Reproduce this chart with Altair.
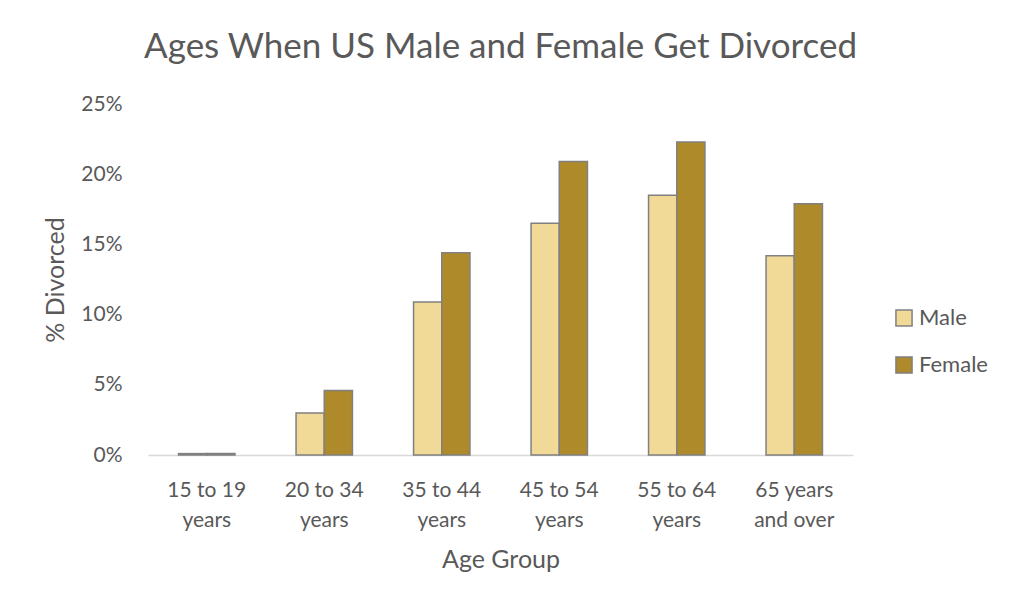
import altair as alt
import pandas as pd

categories = ["15 to 19|years", "20 to 34|years", "35 to 44|years",
              "45 to 54|years", "55 to 64|years", "65 years|and over"]
male = [0.1, 3.0, 10.9, 16.5, 18.5, 14.2]
female = [0.1, 4.6, 14.4, 20.9, 22.3, 17.9]
series = ["Male", "Female"]
colors = ["#f1da98", "#ae8a2b"]

rows = []
for c, m, f in zip(categories, male, female):
    rows.append({"age": c, "sex": "Male", "pct": m / 100})
    rows.append({"age": c, "sex": "Female", "pct": f / 100})
df = pd.DataFrame(rows)

FONT = "Lato"
GREY = "#595959"

chart = alt.Chart(df).mark_bar(stroke="#808080", strokeWidth=1.5).encode(
    x=alt.X("age:N", sort=categories,
            scale=alt.Scale(paddingInner=0.52, paddingOuter=0.26),
            axis=alt.Axis(title="Age Group", labelAngle=0,
                          labelExpr="split(datum.label, '|')",
                          labelFont=FONT, labelFontSize=21, labelColor=GREY,
                          labelLineHeight=30, labelPadding=24,
                          titleFont=FONT, titleFontSize=25, titleColor=GREY,
                          titleFontWeight="normal", titlePadding=17,
                          ticks=False, domainColor="#d9d9d9", domainWidth=1.5)),
    xOffset=alt.XOffset("sex:N", sort=series, scale=alt.Scale(paddingInner=0, paddingOuter=0)),
    y=alt.Y("pct:Q", scale=alt.Scale(domain=[0, 0.25]),
            axis=alt.Axis(title="% Divorced", format=".0%", values=[0, 0.05, 0.1, 0.15, 0.2, 0.25],
                          labelFont=FONT, labelFontSize=21, labelColor=GREY,
                          labelPadding=26,
                          titleFont=FONT, titleFontSize=25, titleColor=GREY,
                          titleFontWeight="normal", titlePadding=12,
                          ticks=False, domain=False, grid=False)),
    color=alt.Color("sex:N", sort=series,
                    scale=alt.Scale(domain=series, range=colors),
                    legend=alt.Legend(title=None, orient="none", legendX=745, legendY=203,
                                      symbolType="square", symbolSize=260,
                                      symbolStrokeColor="#808080", symbolStrokeWidth=1.5,
                                      labelFont=FONT, labelFontSize=22, labelColor=GREY,
                                      rowPadding=23, labelOffset=4)),
).properties(
    width=705,
    height=351,
    title=alt.Title("Ages When US Male and Female Get Divorced", font=FONT, fontSize=35,
                    color=GREY, fontWeight="normal", anchor="middle", offset=28),
    autosize=alt.AutoSizeParams(type="none"),
    padding={"left": 148, "top": 104, "right": 171, "bottom": 157},
).configure_view(stroke=None)

chart.save("out.html", embed_options={"renderer": "svg", "actions": False})
